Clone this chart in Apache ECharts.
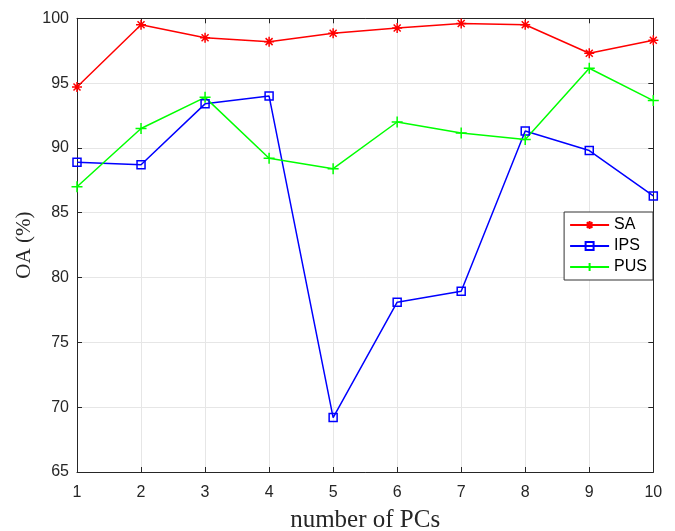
<!DOCTYPE html>
<html><head><meta charset="utf-8">
<script src="https://cdn.jsdelivr.net/npm/echarts@6/dist/echarts.min.js"></script>
<style>html,body{margin:0;padding:0;background:#fff}#c{width:675px;height:531px}</style>
</head><body><div id="c"></div>
<script>
var pcs = [1,2,3,4,5,6,7,8,9,10];
var saVals  = [94.7, 99.5, 98.5, 98.2, 98.85, 99.25, 99.6, 99.5, 97.3, 98.3];
var ipsVals = [88.9, 88.7, 93.4, 94.0, 69.2, 78.1, 78.95, 91.3, 89.8, 86.3];
var pusVals = [87.0, 91.5, 93.9, 89.2, 88.4, 92.0, 91.15, 90.65, 96.15, 93.65];
var yTicks = [65,70,75,80,85,90,95,100];

function pairs(v){ return pcs.map(function(x,i){ return [x, v[i]]; }); }
var asterisk = 'path://M0,-10L0,10M-10,0L10,0M-7,-7L7,7M-7,7L7,-7';
var plus = 'path://M0,-10L0,10M-10,0L10,0';
var txt = '#262626';
var chart = echarts.init(document.getElementById('c'));
chart.setOption({
  animation:false,
  grid:{left:77,right:21.7,top:18.3,bottom:59,show:false,containLabel:false,outerBoundsMode:'none'},
  legend:{
    orient:'vertical', right:22, top:212,
    backgroundColor:'#fff', borderColor:'#333', borderWidth:1, borderRadius:0,
    padding:[5,6,5,5], itemWidth:39, itemHeight:10, itemGap:5,
    textStyle:{fontFamily:'Liberation Sans, Arial', fontSize:16, color:'#000'},
    data:['SA','IPS','PUS']
  },
  xAxis:[{
    type:'value', min:1, max:10, interval:1,
    name:'number of PCs', nameLocation:'middle', nameGap:36, nameMoveOverlap:false,
    nameTextStyle:{fontFamily:'Liberation Serif, Times New Roman', fontSize:25, color:txt},
    axisLine:{show:true,lineStyle:{color:txt,width:1}},
    axisTick:{show:true,inside:true,length:5,lineStyle:{color:txt}},
    axisLabel:{color:txt,fontFamily:'Liberation Sans, Arial',fontSize:16,margin:13},
    splitLine:{show:true,lineStyle:{color:'#e6e6e6',width:1}}
  },{
    type:'value', min:1, max:10, interval:1, position:'top',
    axisLine:{show:true,lineStyle:{color:txt,width:1}},
    axisTick:{show:true,inside:true,length:5,lineStyle:{color:txt}},
    axisLabel:{show:false}, splitLine:{show:false}
  }],
  yAxis:[{
    type:'value', min:65, max:100, interval:5,
    name:'OA (%)', nameLocation:'middle', nameGap:42, nameMoveOverlap:false,
    nameTextStyle:{fontFamily:'Liberation Serif, Times New Roman', fontSize:21, color:txt},
    axisLine:{show:true,lineStyle:{color:txt,width:1}},
    axisTick:{show:true,inside:true,length:5,lineStyle:{color:txt}},
    axisLabel:{color:txt,fontFamily:'Liberation Sans, Arial',fontSize:16,margin:8},
    splitLine:{show:true,lineStyle:{color:'#e6e6e6',width:1}}
  },{
    type:'value', min:65, max:100, interval:5, position:'right',
    axisLine:{show:true,lineStyle:{color:txt,width:1}},
    axisTick:{show:true,inside:true,length:5,lineStyle:{color:txt}},
    axisLabel:{show:false}, splitLine:{show:false}
  }],
  series:[
    {name:'SA', type:'line', data:pairs(saVals), color:'#ff0000',
     symbol:asterisk, symbolSize:10,
     lineStyle:{color:'#ff0000',width:1.5},
     itemStyle:{color:'rgba(0,0,0,0)',borderColor:'#ff0000',borderWidth:1.5}},
    {name:'IPS', type:'line', data:pairs(ipsVals), color:'#0000ff',
     symbol:'rect', symbolSize:8,
     lineStyle:{color:'#0000ff',width:1.5},
     itemStyle:{color:'rgba(0,0,0,0)',borderColor:'#0000ff',borderWidth:1.5}},
    {name:'PUS', type:'line', data:pairs(pusVals), color:'#00ff00',
     symbol:plus, symbolSize:11,
     lineStyle:{color:'#00ff00',width:1.5},
     itemStyle:{color:'rgba(0,0,0,0)',borderColor:'#00ff00',borderWidth:1.5}}
  ]
});
</script></body></html>
